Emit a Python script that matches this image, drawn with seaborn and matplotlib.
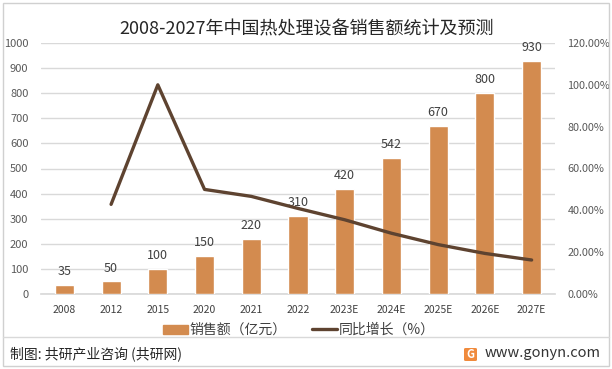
import numpy as np
import pandas as pd
import matplotlib
matplotlib.use("Agg")
import matplotlib.pyplot as plt
import seaborn as sns
from matplotlib.patches import Rectangle, FancyBboxPatch
from matplotlib.lines import Line2D
from matplotlib.ticker import FuncFormatter, MultipleLocator

years = ["2008", "2012", "2015", "2020", "2021", "2022", "2023E", "2024E", "2025E", "2026E", "2027E"]
sales = [35, 50, 100, 150, 220, 310, 420, 542, 670, 800, 930]
growth = [np.nan, 42.86, 100.0, 50.0, 46.67, 40.91, 35.48, 29.05, 23.62, 19.40, 16.25]

title = "2008-2027年中国热处理设备销售额统计及预测"
bar_label = "销售额（亿元）"
line_label = "同比增长（%）"
source = "制图: 共研产业咨询 (共研网)"
site = "www.gonyn.com"

sns.set_theme(style="white")
plt.rcParams["font.family"] = ["Noto Sans CJK SC", "DejaVu Sans"]

BAR = "#D38B4F"
LINE = "#5E4330"
GRID = "#D9D9D9"
TXT = "#595959"

W, H = 612, 369
fig = plt.figure(figsize=(W / 100, H / 100), dpi=100)
fig.patch.set_facecolor("white")

left, right, top, bottom = 41, 555, 43, 294
ax = fig.add_axes([left / W, 1 - bottom / H, (right - left) / W, (bottom - top) / H])
ax2 = ax.twinx()

df = pd.DataFrame({"year": years, "sales": sales, "growth": growth})
df["pos"] = np.arange(len(df))

sns.barplot(data=df, x="year", y="sales", color=BAR, width=0.41, ax=ax,
            saturation=1, zorder=3)
ax.set_xlim(-0.5, len(years) - 0.5)
ax.set_ylim(0, 1000)
ax.yaxis.set_major_locator(MultipleLocator(100))
ax.grid(axis="y", color=GRID, linewidth=1, zorder=0)
ax.set_axisbelow(True)
ax.set_xlabel("")
ax.set_ylabel("")
for c in ax.containers:
    ax.bar_label(c, labels=[str(v) for v in sales], padding=5, fontsize=9, color="#404040")
ax.tick_params(axis="y", length=0, pad=9, labelsize=8, labelcolor=TXT)
ax.tick_params(axis="x", length=0, pad=8, labelsize=7.5, labelcolor="#404040")
for s in ax.spines.values():
    s.set_visible(False)
ax.spines["bottom"].set_visible(True)
ax.spines["bottom"].set_color(GRID)

dl = df.dropna()
sns.lineplot(data=dl, x="pos", y="growth", color=LINE, linewidth=2.4, ax=ax2,
             legend=False, zorder=4)
ax2.set_ylim(0, 120)
ax2.yaxis.set_major_locator(MultipleLocator(20))
ax2.yaxis.set_major_formatter(FuncFormatter(lambda v, p: f"{v:.2f}%"))
ax2.tick_params(axis="y", length=0, pad=9, labelsize=7.8, labelcolor=TXT)
ax2.set_xlabel("")
ax2.set_ylabel("")
ax2.grid(False)
for s in ax2.spines.values():
    s.set_visible(False)
ax.set_xlim(-0.5, len(years) - 0.5)

fig.text(307 / W, 1 - 29 / H, title, ha="center", va="center", fontsize=13, color="#262626")

handles = [Rectangle((0, 0), 1, 1, color=BAR), Line2D([0], [0], color=LINE, lw=2.4)]
fig.legend(handles, [bar_label, line_label], loc="center", bbox_to_anchor=(299 / W, 1 - 330 / H),
           ncol=2, frameon=False, fontsize=10, handlelength=1.8, handleheight=0.6,
           columnspacing=1.8, handletextpad=0.15, labelcolor="#404040")

# frame and separator
fig.add_artist(Rectangle((3 / W, 3 / H), (W - 6) / W, (H - 6) / H, transform=fig.transFigure,
                         fill=False, edgecolor="#D0D0D0", linewidth=1))
fig.add_artist(Line2D([3 / W, (W - 3) / W], [1 - 337 / H, 1 - 337 / H], transform=fig.transFigure,
                      color="#D9D9D9", linewidth=1))

fig.text(10 / W, 1 - 354 / H, source, ha="left", va="center", fontsize=10, color="#262626",
         fontweight="medium")
fig.add_artist(FancyBboxPatch((464 / W, 1 - 361 / H), 13 / W, 13 / H, transform=fig.transFigure,
                              boxstyle="round,pad=0,rounding_size=0.003", facecolor="#F08A3C",
                              edgecolor="none"))
fig.text(470.5 / W, 1 - 354.5 / H, "G", ha="center", va="center", fontsize=8, color="white",
         fontweight="bold")
fig.text(485 / W, 1 - 353 / H, site, ha="left", va="center", fontsize=10.5, color="#333333")

fig.savefig("out.png", dpi=100, facecolor="white")
